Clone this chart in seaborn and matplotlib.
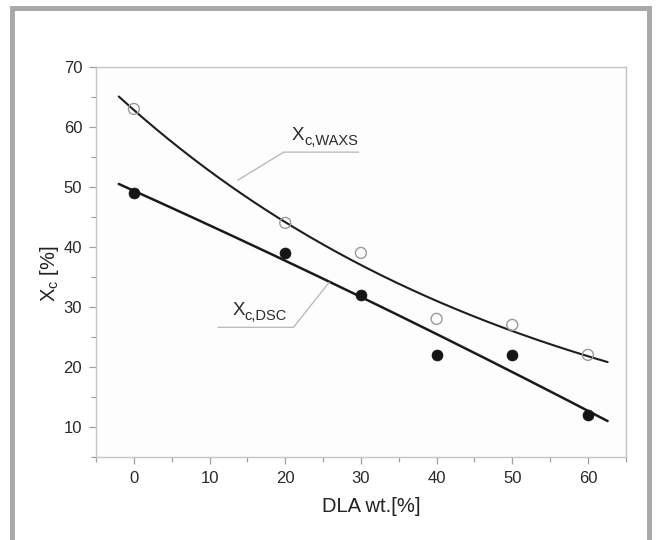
import numpy as np
import pandas as pd
import matplotlib.pyplot as plt
import seaborn as sns
from matplotlib.ticker import MultipleLocator
from matplotlib.patches import Rectangle

# Data
dla = [0, 20, 30, 40, 50, 60]
xc_waxs = [63, 44, 39, 28, 27, 22]
xc_dsc = [49, 39, 32, 22, 22, 12]

# range over which the fit curves are drawn
fit_range = (-2, 62.6)

sns.set_theme(style="ticks")
plt.rcParams['font.family'] = ['Liberation Sans', 'DejaVu Sans']
plt.rcParams['mathtext.default'] = 'regular'

fig = plt.figure(figsize=(6.58, 5.4), dpi=100)
fig.patch.set_facecolor('white')
ax = fig.add_axes([0.146, 0.154, 0.805, 0.722])
ax.set_facecolor('#fdfdfd')

# grey page frame (left, top, right)
frame_col = '#a9a9a9'
for x0, y0, w, h in [(0.0152, 0.0, 0.0076, 0.989),
                     (0.0152, 0.9796, 0.9757, 0.0093),
                     (0.9833, 0.0, 0.0076, 0.989)]:
    fig.add_artist(Rectangle((x0, y0), w, h, transform=fig.transFigure,
                             facecolor=frame_col, edgecolor='none'))

# fitted curves: exponential for WAXS, quadratic for DSC
xs = np.linspace(fit_range[0], fit_range[1], 200)
b, ln_a = np.polyfit(dla, np.log(xc_waxs), 1)
fits = pd.DataFrame({
    'x': xs,
    'waxs': np.exp(ln_a) * np.exp(b * xs),
    'dsc': np.polyval(np.polyfit(dla, xc_dsc, 2), xs),
})
sns.lineplot(data=fits, x='x', y='waxs', ax=ax, color='#1e1e1e', lw=1.5)
sns.lineplot(data=fits, x='x', y='dsc', ax=ax, color='#1a1a1a', lw=1.8)

# measured points
df = pd.DataFrame({'dla': dla, 'waxs': xc_waxs, 'dsc': xc_dsc})
sns.scatterplot(data=df, x='dla', y='waxs', ax=ax, s=62, marker='o',
                facecolor='none', edgecolor='#9a9a9a', linewidth=1.0, zorder=3)
sns.scatterplot(data=df, x='dla', y='dsc', ax=ax, s=62, marker='o',
                color='#151515', edgecolor='#151515', linewidth=0.5, zorder=3)

# leader lines and labels
ax.plot([13.7, 19.8, 29.7], [51.1, 55.8, 55.8], color='#b5b5b5', lw=0.9)
ax.plot([25.8, 21.1, 11.1], [34.1, 26.6, 26.6], color='#b5b5b5', lw=0.9)
for x, y, sub in [(20.9, 57.8, 'c,WAXS'), (13.0, 28.6, 'c,DSC')]:
    ax.text(x, y, 'X', fontsize=13.5, color='#2a2a2a', va='baseline')
    ax.annotate(sub, xy=(x, y), xytext=(9, -3.6), textcoords='offset points',
                fontsize=10.5, color='#2a2a2a', va='baseline')

ax.set_xlim(-5, 65)
ax.set_ylim(5, 70)
ax.xaxis.set_major_locator(MultipleLocator(10))
ax.xaxis.set_minor_locator(MultipleLocator(5))
ax.yaxis.set_major_locator(MultipleLocator(10))
ax.yaxis.set_minor_locator(MultipleLocator(5))
ax.set_yticks([10, 20, 30, 40, 50, 60, 70])

for side in ['left', 'right', 'top', 'bottom']:
    ax.spines[side].set_visible(True)
    ax.spines[side].set_color('#c4c4c4')
    ax.spines[side].set_linewidth(1.0)

ax.tick_params(axis='both', which='major', direction='out', length=5, width=0.9,
               color='#a0a0a0', labelsize=12, labelcolor='#2a2a2a', pad=5)
ax.tick_params(axis='both', which='minor', direction='out', length=3.5, width=0.9,
               color='#a0a0a0')
ax.tick_params(top=False, right=False, which='both')

ax.set_xlabel('DLA wt.[%]', fontsize=14.5, color='#222222', labelpad=8)
ax.set_ylabel('X$_c$ [%]', fontsize=14.5, color='#222222', labelpad=2)
ax.xaxis.label.set_x(0.52)
ax.yaxis.label.set_y(0.47)

fig.savefig('out.png', dpi=100, facecolor='white')
